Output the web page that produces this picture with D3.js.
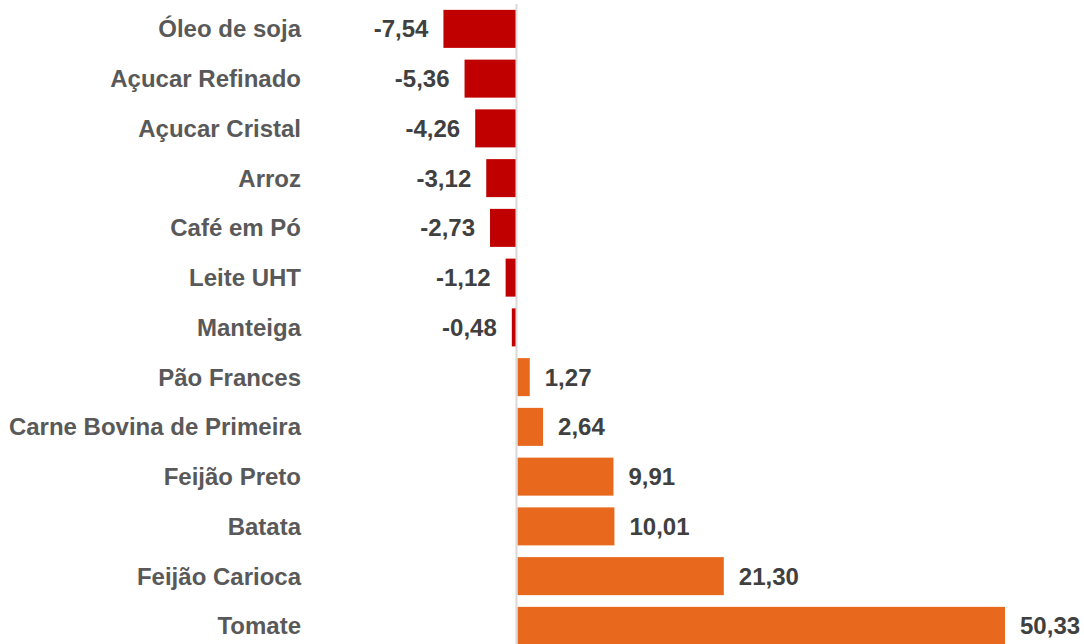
<!DOCTYPE html>
<html>
<head>
<meta charset="utf-8">
<script src="https://cdn.jsdelivr.net/npm/d3@7.9.0/dist/d3.min.js"></script>
<style>
  body { margin: 0; background: #fff; }
  svg { display: block; }
  text { font-family: Arial, "Liberation Sans", Helvetica, sans-serif; }
</style>
</head>
<body>
<div id="chart"></div>
<script>
// data
const products = ['Óleo de soja', 'Açucar Refinado', 'Açucar Cristal', 'Arroz', 'Café em Pó',
    'Leite UHT', 'Manteiga', 'Pão Frances', 'Carne Bovina de Primeira', 'Feijão Preto',
    'Batata', 'Feijão Carioca', 'Tomate'];
const changes = [-7.54, -5.36, -4.26, -3.12, -2.73, -1.12, -0.48, 1.27, 2.64, 9.91, 10.01, 21.30, 50.33];

const data = products.map((p, i) => ({ product: p, value: changes[i] }));

const width = 1084;
const height = 644;

const svg = d3.select('#chart')
    .append('svg')
    .attr('width', width)
    .attr('height', height);

const xScale = d3.scaleLinear()
    .domain([-10, 52])
    .range([419.6, 1020.2]);

const yScale = d3.scaleBand()
    .domain(products)
    .range([4, 4 + 13 * 49.75])
    .paddingInner(0.236)
    .paddingOuter(0.118);

const fmt = v => v.toFixed(2).replace('.', ',');

// bars
svg.append('g')
    .selectAll('rect')
    .data(data)
    .enter()
    .append('rect')
    .attr('x', d => d.value < 0 ? xScale(d.value) : xScale(0) + 1)
    .attr('y', d => yScale(d.product))
    .attr('width', d => Math.abs(xScale(d.value) - xScale(0)))
    .attr('height', yScale.bandwidth())
    .attr('fill', d => d.value < 0 ? '#C00000' : '#E8691E');

// zero line
svg.append('line')
    .attr('x1', xScale(0))
    .attr('x2', xScale(0))
    .attr('y1', 4)
    .attr('y2', height)
    .attr('stroke', '#d9d9d9')
    .attr('stroke-width', 2);

// category labels
svg.append('g')
    .selectAll('text')
    .data(data)
    .enter()
    .append('text')
    .attr('x', 301)
    .attr('y', d => yScale(d.product) + yScale.bandwidth() / 2)
    .attr('dy', '0.35em')
    .attr('text-anchor', 'end')
    .attr('font-size', '24px')
    .attr('font-weight', 'bold')
    .attr('fill', '#595959')
    .text(d => d.product);

// value labels
svg.append('g')
    .selectAll('text')
    .data(data)
    .enter()
    .append('text')
    .attr('x', d => d.value < 0 ? xScale(d.value) - 15 : xScale(d.value) + 16)
    .attr('y', d => yScale(d.product) + yScale.bandwidth() / 2)
    .attr('dy', '0.35em')
    .attr('text-anchor', d => d.value < 0 ? 'end' : 'start')
    .attr('font-size', '24px')
    .attr('font-weight', 'bold')
    .attr('fill', '#404040')
    .text(d => fmt(d.value));
</script>
</body>
</html>
